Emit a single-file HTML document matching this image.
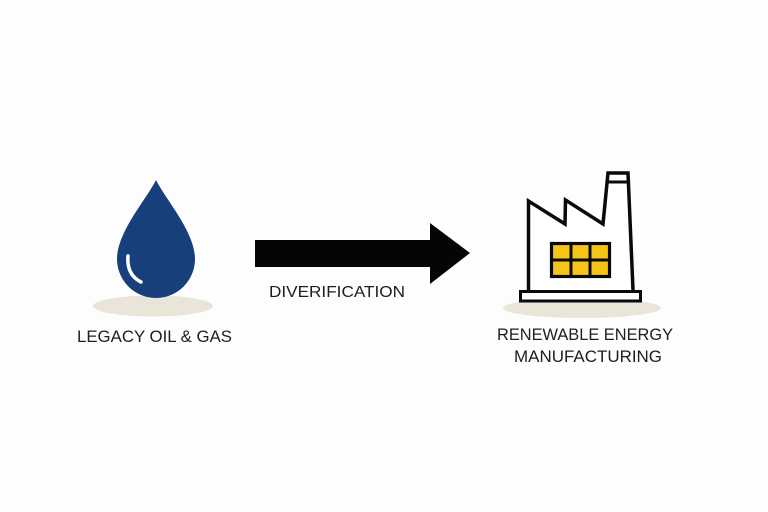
<!DOCTYPE html>
<html><head><meta charset="utf-8"><style>
html,body{margin:0;padding:0;background:#fdfdfd;}
svg{display:block;}
text{font-family:"Liberation Sans",sans-serif;fill:#1e1e1e;}
</style></head><body>
<svg width="768" height="512" viewBox="0 0 768 512" xmlns="http://www.w3.org/2000/svg">
<rect width="768" height="512" fill="#fdfdfd"/>
<!-- drop shadow -->
<ellipse cx="153" cy="306" rx="60" ry="10.5" fill="#e9e5d8"/>
<!-- drop -->
<path d="M156 180 C 146 200, 117 232, 117 259 A 39 39 0 0 0 195 259 C 195 232, 166 200, 156 180 Z" fill="#163f7c"/>
<path d="M128 256 C 127 268, 131 277, 141 282" fill="none" stroke="#ffffff" stroke-width="3.5" stroke-linecap="round"/>
<text x="77" y="342" font-size="17" textLength="155" lengthAdjust="spacingAndGlyphs">LEGACY OIL &amp; GAS</text>
<!-- arrow -->
<path d="M255 240 L430 240 L430 223 L470 253 L430 284 L430 267 L255 267 Z" fill="#050505"/>
<text x="269" y="297" font-size="16" textLength="136" lengthAdjust="spacingAndGlyphs">DIVERIFICATION</text>
<!-- factory shadow -->
<ellipse cx="582" cy="308" rx="79" ry="10" fill="#e9e5d8"/>
<!-- factory body -->
<path d="M528.5 290 L528.5 201 L565 224 L565.5 200 L603 224 L608 173 L628 173 L633 290" fill="#ffffff" stroke="#0a0a0a" stroke-width="3.5" stroke-linejoin="miter"/>
<line x1="608.5" y1="182" x2="628.5" y2="182" stroke="#0a0a0a" stroke-width="3"/>
<!-- base -->
<rect x="520.5" y="291.5" width="120" height="9.5" fill="#ffffff" stroke="#0a0a0a" stroke-width="3"/>
<!-- window -->
<rect x="551.5" y="243.5" width="58" height="33" fill="#f6c419" stroke="#0a0a0a" stroke-width="3.2"/>
<line x1="571" y1="243" x2="571" y2="277" stroke="#0a0a0a" stroke-width="3"/>
<line x1="590" y1="243" x2="590" y2="277" stroke="#0a0a0a" stroke-width="3"/>
<line x1="551" y1="260" x2="610" y2="260" stroke="#0a0a0a" stroke-width="3"/>
<text x="497" y="340" font-size="17" textLength="176" lengthAdjust="spacingAndGlyphs">RENEWABLE ENERGY</text>
<text x="514" y="362" font-size="17" textLength="148" lengthAdjust="spacingAndGlyphs">MANUFACTURING</text>
</svg>
</body></html>
